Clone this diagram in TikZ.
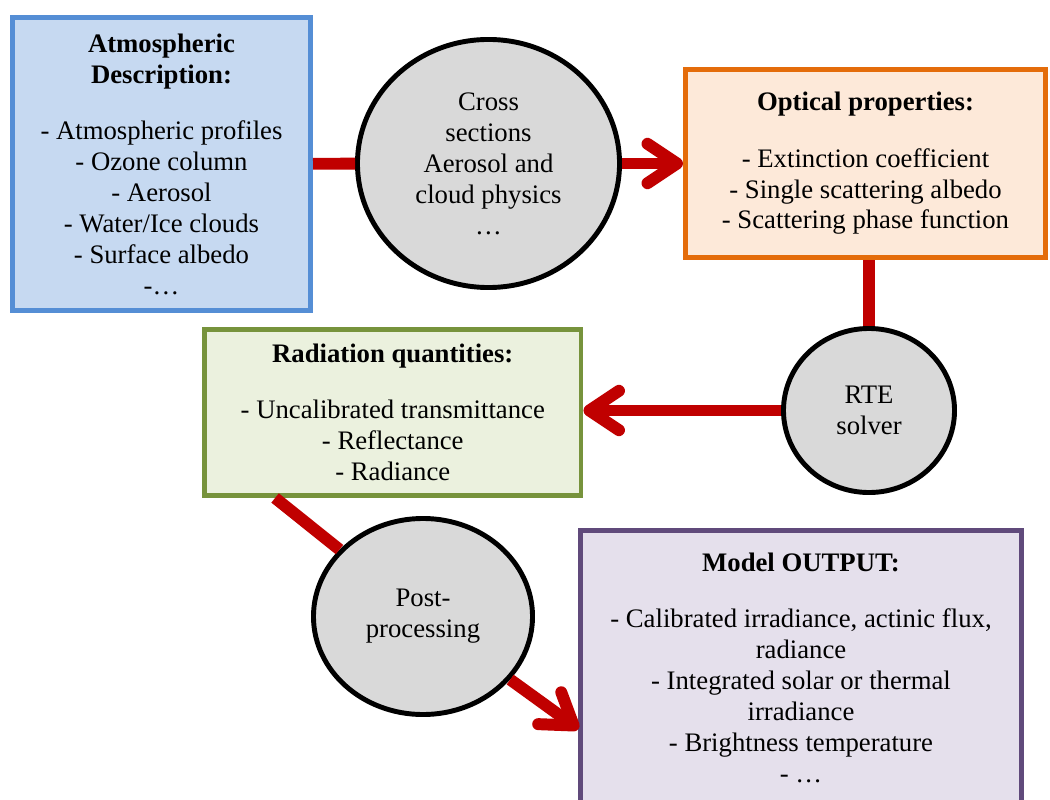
\documentclass[tikz,border=0pt]{standalone}
\usepackage{fontspec}
\setmainfont{Liberation Serif}
\usetikzlibrary{shapes.geometric,arrows.meta,positioning}
\definecolor{atmfill}{HTML}{C6D9F1}
\definecolor{atmline}{HTML}{558ED5}
\definecolor{optfill}{HTML}{FDE9D9}
\definecolor{optline}{HTML}{E46C0A}
\definecolor{radfill}{HTML}{EBF1DE}
\definecolor{radline}{HTML}{77933C}
\definecolor{outfill}{HTML}{E5E0EC}
\definecolor{outline}{HTML}{604A7B}
\definecolor{procgray}{HTML}{D9D9D9}
\definecolor{linkred}{HTML}{C00000}
\tikzset{
  infobox/.style={rectangle, draw, line width=3.5pt, align=center, inner sep=0pt},
  procnode/.style={ellipse, draw=black, fill=procgray, line width=3.5pt, align=center, inner sep=0pt},
  link/.style={draw=linkred, line width=8.5pt},
  flow/.style={link, -{Straight Barb[round,length=21pt,width=28pt]}},
}

\begin{document}
\begin{tikzpicture}[x=0.025cm, y=-0.025cm, font=\fontsize{19}{22}\selectfont]
\useasboundingbox (0,0) rectangle (1050,800);

% input and optical properties
\node[infobox, draw=atmline, fill=atmfill, minimum width=7.45cm, minimum height=7.325cm] (atm) at (161.5,164)
{\textbf{Atmospheric}\\\textbf{Description:}\\[18pt]
 - Atmospheric profiles\\- Ozone column\\- Aerosol\\- Water/Ice clouds\\- Surface albedo\\-…};
\node[procnode, minimum width=6.55cm, minimum height=6.2cm] (cross) at (488.5,163.5)
{Cross\\sections\\Aerosol and\\cloud physics\\…};
\node[infobox, draw=optline, fill=optfill, minimum width=9cm, minimum height=4.7cm] (opt) at (865.5,163.5)
{\textbf{Optical properties:}\\[18pt]
 - Extinction coefficient\\- Single scattering albedo\\- Scattering phase function};

% solver and radiation quantities
\node[procnode, minimum width=4.275cm, minimum height=4.1cm] (rte) at (869,410.5) {RTE\\solver};
\node[infobox, draw=radline, fill=radfill, minimum width=9.41cm, minimum height=4.15cm] (rad) at (392.75,412.5)
{\textbf{Radiation quantities:}\\[18pt]
 - Uncalibrated transmittance\\- Reflectance\\- Radiance};

% post-processing and output
\node[procnode, minimum width=5.475cm, minimum height=4.9cm] (post) at (423,616.5) {Post-\\processing};
\node[infobox, draw=outline, fill=outfill, minimum width=11cm, minimum height=10cm, anchor=north] (output) at (801,528) {};
\node[anchor=north, below=14pt of output.north, align=center] (outtext)
{\textbf{Model OUTPUT:}\\[18pt]
 - Calibrated irradiance, actinic flux,\\radiance\\- Integrated solar or thermal\\irradiance\\- Brightness temperature\\- …};
\coordinate (outin) at (output.west |- 0,729);

% connectors
\draw[link] (atm) -- (cross);
\draw[flow] (cross) -- (opt);
\draw[link] (rte.north) -- (rte.north |- opt.south);
\draw[flow] (rte) -- (rte -| rad.east);
\draw[link] (rad.216) -- (post);
\draw[flow] (post) -- (outin);
\end{tikzpicture}
\end{document}
